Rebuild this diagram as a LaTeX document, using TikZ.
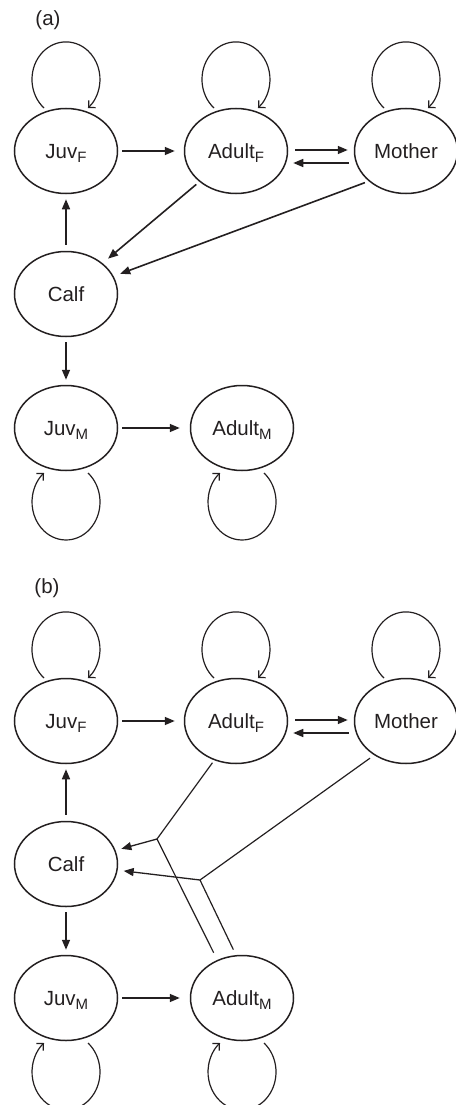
\documentclass[tikz,border=0pt]{standalone}
\usepackage{fontspec}
\setmainfont{Liberation Sans}
\usetikzlibrary{shapes.geometric,arrows.meta,calc}
\definecolor{ink}{HTML}{231F20}
\newcommand{\sbs}[1]{\raisebox{-4.5pt}{\fontsize{15}{15}\selectfont #1}}
\begin{document}
\begin{tikzpicture}[x=1pt,y=-1pt,
  state/.style={ellipse, draw=ink, line width=1.5pt, minimum width=103pt, minimum height=85pt,
    inner sep=0pt, font=\fontsize{20.5}{24}\selectfont, text=ink, text height=14pt, text depth=0pt},
  arr/.style={draw=ink, line width=1.6pt, -{Triangle[length=10pt,width=8pt]}},
  selfloop/.style={draw=ink, line width=1.2pt, -{Straight Barb[length=5pt,width=10pt]}},
  mate/.style={draw=ink, line width=1.2pt},
  lab/.style={font=\fontsize{20.5}{24}\selectfont, text=ink}]
\useasboundingbox (0,0) rectangle (455,1105);

% ---------- panel (a)
\node[lab] (la) at (48,20) {(a)};
\node[state] (jf) at (66,151) {Juv\sbs{F}};
\node[state] (af) at (236,151) {Adult\sbs{F}};
\node[state] (mo) at (406,151) {Mother};
\node[state] (ca) at (66,294) {Calf};
\node[state] (jm) at (66,428) {Juv\sbs{M}};
\node[state] (am) at (242,428) {Adult\sbs{M}};

\foreach \n in {jf,af,mo}
  \draw[selfloop] ([shift={(-22,-43)}]\n.center) arc[start angle=229.7, end angle=-49.7, x radius=34pt, y radius=37.5pt];
\foreach \n in {jm,am}
  \draw[selfloop] ([shift={(22,45)}]\n.center) arc[start angle=49.7, end angle=-229.7, x radius=34pt, y radius=38pt];

\draw[arr, shorten <=4pt, shorten >=9pt] (jf) -- (af);
\draw[arr] ([shift={(7,-1)}]af.east) -- ([shift={(-6,-1)}]mo.west);
\draw[arr] ([shift={(-5,12)}]mo.west) -- ([shift={(5,12)}]af.east);
\draw[arr, shorten <=6pt, shorten >=5pt] (ca) -- (jf);
\draw[arr, shorten <=4pt, shorten >=7pt] (af) -- (ca);
\draw[arr, shorten <=4pt, shorten >=7pt] (mo.219) -- (ca);
\draw[arr, shorten <=5pt, shorten >=5pt] (ca) -- (jm);
\draw[arr, shorten <=4pt, shorten >=10pt] (jm) -- (am);

% ---------- panel (b)
\node[lab] (lb) at (47,588) {(b)};
\node[state] (jfb) at (66,721) {Juv\sbs{F}};
\node[state] (afb) at (236,721) {Adult\sbs{F}};
\node[state] (mob) at (406,721) {Mother};
\node[state] (cab) at (66,864) {Calf};
\node[state] (jmb) at (66,998) {Juv\sbs{M}};
\node[state] (amb) at (242,998) {Adult\sbs{M}};

\foreach \n in {jfb,afb,mob}
  \draw[selfloop] ([shift={(-22,-43)}]\n.center) arc[start angle=229.7, end angle=-49.7, x radius=34pt, y radius=37.5pt];
\foreach \n in {jmb,amb}
  \draw[selfloop] ([shift={(22,45)}]\n.center) arc[start angle=49.7, end angle=-229.7, x radius=34pt, y radius=38pt];

\draw[arr, shorten <=4pt, shorten >=9pt] (jfb) -- (afb);
\draw[arr] ([shift={(7,-1)}]afb.east) -- ([shift={(-6,-1)}]mob.west);
\draw[arr] ([shift={(-5,12)}]mob.west) -- ([shift={(5,12)}]afb.east);
\draw[arr, shorten <=6pt, shorten >=5pt] (cab) -- (jfb);
\draw[arr, shorten <=5pt, shorten >=5pt] (cab) -- (jmb);
\draw[arr, shorten <=4pt, shorten >=10pt] (jmb) -- (amb);

\coordinate (j1) at (157,839);
\coordinate (j2) at (200,880);
\draw[mate, shorten <=3pt] (afb.241) -- (j1);
\draw[mate, shorten <=5pt] (mob.227) -- (j2);
\draw[mate, shorten >=8pt] (j1) -- (amb.123);
\draw[mate, shorten >=6pt] (j2) -- (amb.98);
\draw[arr, line width=1.3pt, shorten >=6pt] (j1) -- (cab);
\draw[arr, line width=1.3pt, shorten >=6pt] (j2) -- (cab);
\end{tikzpicture}
\end{document}
